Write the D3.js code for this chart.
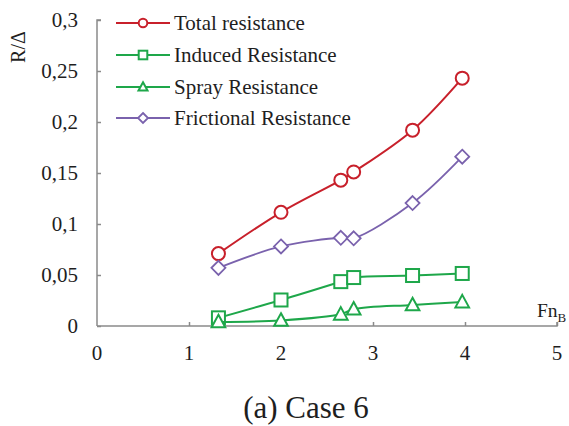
<!DOCTYPE html>
<html><head><meta charset="utf-8">
<script src="https://cdn.jsdelivr.net/npm/d3@7"></script>
<style>body{margin:0;background:#fff}svg{display:block}</style>
</head><body>
<script>
const fnB = [1.32, 2.0, 2.65, 2.79, 3.43, 3.97];
const totalRes = [0.071, 0.1115, 0.143, 0.151, 0.192, 0.243];
const inducedRes = [0.008, 0.0255, 0.0435, 0.0475, 0.0495, 0.0515];
const sprayRes = [0.004, 0.0055, 0.0115, 0.0165, 0.0207, 0.0235];
const frictionalRes = [0.057, 0.078, 0.0865, 0.086, 0.1205, 0.166];
const seriesNames = ["Total resistance", "Induced Resistance", "Spray Resistance", "Frictional Resistance"];
const yTicks = [0, 0.05, 0.1, 0.15, 0.2, 0.25, 0.3];
const xTicks = [0, 1, 2, 3, 4, 5];

const W = 569, H = 426;
const svg = d3.select("body").append("svg").attr("width", W).attr("height", H);
const font = "'Liberation Serif', 'Times New Roman', serif";
const x = d3.scaleLinear().domain([0, 5]).range([97, 557]);
const y = d3.scaleLinear().domain([0, 0.3]).range([326, 20]);
const axisCol = "#8a8a8a";
const txtCol = "#1e1e1e";
const fmt = v => String(v).replace(".", ",");

// y axis
const ya = svg.append("g").attr("transform", `translate(${x(0)},0)`)
  .call(d3.axisRight(y).tickValues(yTicks).tickSize(4).tickFormat(""));
ya.select(".domain").attr("stroke", axisCol).attr("stroke-width", 1.5).attr("d", `M4,${y(0.3)}H0V${y(0)}`);
ya.selectAll(".tick line").attr("stroke", axisCol).attr("stroke-width", 1.5);
svg.append("g").selectAll("text").data(yTicks).join("text")
  .attr("x", 78).attr("y", d => y(d)).attr("dy", "0.33em").attr("text-anchor", "end")
  .attr("font-family", font).attr("font-size", 21).attr("fill", txtCol).text(fmt);

// x axis
const xa = svg.append("g").attr("transform", `translate(0,${y(0)})`)
  .call(d3.axisTop(x).tickValues(xTicks.slice(1)).tickSize(4).tickFormat(""));
xa.select(".domain").attr("stroke", axisCol).attr("stroke-width", 1.5).attr("d", `M${x(0)},0H${x(5)}V-4`);
xa.selectAll(".tick line").attr("stroke", axisCol).attr("stroke-width", 1.5);
svg.append("g").selectAll("text").data(xTicks).join("text")
  .attr("x", d => x(d)).attr("y", 353).attr("dy", "0.33em").attr("text-anchor", "middle")
  .attr("font-family", font).attr("font-size", 21).attr("fill", txtCol).text(d => d);

// axis titles
const fnT = svg.append("text").attr("x", 537).attr("y", 317).attr("font-family", font).attr("font-size", 19.5).attr("fill", txtCol);
fnT.append("tspan").text("Fn");
fnT.append("tspan").attr("font-size", 13).attr("dy", 5).text("B");
svg.append("text").attr("transform", "translate(25,47) rotate(-90)").attr("text-anchor", "middle")
  .attr("font-family", font).attr("font-size", 20).attr("fill", txtCol).text("R/Δ");

// caption
svg.append("text").attr("x", 306).attr("y", 418).attr("text-anchor", "middle")
  .attr("font-family", font).attr("font-size", 31).attr("fill", txtCol).text("(a) Case 6");

const red = "#c8202b", green = "#1ea74a", purple = "#7a62ad";
const series = [
  {name: seriesNames[0], vals: totalRes, color: red, marker: "circle", sw: 2},
  {name: seriesNames[1], vals: inducedRes, color: green, marker: "square", sw: 2},
  {name: seriesNames[2], vals: sprayRes, color: green, marker: "triangle", sw: 2},
  {name: seriesNames[3], vals: frictionalRes, color: purple, marker: "diamond", sw: 1.8}
];

function drawMarker(g, type, cx, cy, s, color) {
  if (type === "circle") {
    g.append("circle").attr("cx", cx).attr("cy", cy).attr("r", s).attr("fill", "#fff").attr("stroke", color).attr("stroke-width", 2);
  } else if (type === "square") {
    g.append("rect").attr("x", cx - s).attr("y", cy - s).attr("width", 2 * s).attr("height", 2 * s).attr("fill", "#fff").attr("stroke", color).attr("stroke-width", 2);
  } else if (type === "triangle") {
    const h = s * 1.1;
    g.append("path").attr("d", `M${cx},${cy - h}L${cx + s * 1.05},${cy + h * 0.75}L${cx - s * 1.05},${cy + h * 0.75}Z`).attr("fill", "#fff").attr("stroke", color).attr("stroke-width", 2);
  } else {
    g.append("path").attr("d", `M${cx},${cy - s}L${cx + s},${cy}L${cx},${cy + s}L${cx - s},${cy}Z`).attr("fill", "#fff").attr("stroke", color).attr("stroke-width", 1.8);
  }
}

const line = d3.line().x(d => x(d[0])).y(d => y(d[1])).curve(d3.curveCatmullRom.alpha(0.5));
series.forEach(s => {
  const pts = fnB.map((f, i) => [f, s.vals[i]]);
  svg.append("path").datum(pts).attr("d", line).attr("fill", "none").attr("stroke", s.color).attr("stroke-width", s.sw);
  const g = svg.append("g");
  pts.forEach(p => drawMarker(g, s.marker, x(p[0]), y(p[1]), s.marker === "diamond" ? 7 : 6.5, s.color));
});

// legend
const legY = [23, 55, 87, 118];
series.forEach((s, i) => {
  const g = svg.append("g");
  g.append("line").attr("x1", 116).attr("x2", 170).attr("y1", legY[i]).attr("y2", legY[i]).attr("stroke", s.color).attr("stroke-width", 2);
  drawMarker(g, s.marker, 143, legY[i], s.marker === "diamond" ? 5 : 4.3, s.color);
  g.append("text").attr("x", 174).attr("y", legY[i]).attr("dy", "0.33em")
    .attr("font-family", font).attr("font-size", 21).attr("fill", txtCol).text(s.name);
});
</script>
</body></html>
